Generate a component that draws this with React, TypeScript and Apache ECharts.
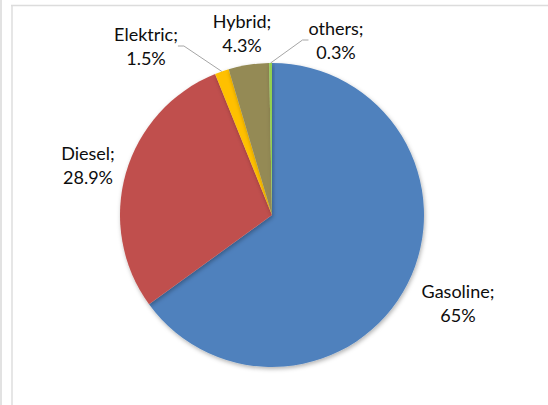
import React, { useEffect, useRef } from "react";
import * as echarts from "echarts";

const categories = ["Gasoline", "Diesel", "Elektric", "Hybrid", "others"];
const values = [65, 28.9, 1.5, 4.3, 0.3];
const labelTexts = ["65%", "28.9%", "1.5%", "4.3%", "0.3%"];
const colors = ["#4F81BD", "#C0504D", "#FFC000", "#948A54", "#92D050"];
const showLines = [false, false, true, false, true];
const labelPos: [number, number][] = [
  [458, 303],
  [88, 165],
  [146, 46],
  [242, 33],
  [336, 40],
];

export default function App() {
  const ref = useRef<HTMLDivElement>(null);
  useEffect(() => {
    document.body.style.margin = "0";
    const chart = echarts.init(ref.current!, null, { renderer: "svg" });
    chart.setOption({
      animation: false,
      backgroundColor: "#ffffff",
      graphic: [
        { type: "line", shape: { x1: 1, y1: 0, x2: 1, y2: 405 }, style: { stroke: "#d9d9d9", lineWidth: 1.5 } },
        { type: "line", shape: { x1: 12, y1: 5, x2: 12, y2: 405 }, style: { stroke: "#e6e6e6", lineWidth: 2 } },
        { type: "line", shape: { x1: 11, y1: 5.5, x2: 548, y2: 5.5 }, style: { stroke: "#dcdcdc", lineWidth: 1.5 } },
      ],
      series: [
        {
          type: "pie",
          center: [272, 215],
          radius: [0, 152],
          startAngle: 90,
          clockwise: true,
          avoidLabelOverlap: false,
          itemStyle: {
            shadowBlur: 4,
            shadowColor: "rgba(0,0,0,0.3)",
            shadowOffsetX: 1,
            shadowOffsetY: 2,
          },
          label: {
            show: true,
            position: "outside",
            fontFamily: "Lato, 'Open Sans', sans-serif",
            fontSize: 18,
            lineHeight: 24,
            color: "#0d0d0d",
            align: "center",
            formatter: (p: any) => `${p.name};\n${labelTexts[p.dataIndex]}`,
          },
          labelLine: {
            show: true,
            length: 10,
            length2: 6,
            lineStyle: { color: "#a6a6a6", width: 1 },
          },
          labelLayout: (params: any) => {
            const [x, y] = labelPos[params.dataIndex];
            return { x, y, align: "center", verticalAlign: "middle" };
          },
          data: categories.map((name, i) => ({
            name,
            value: values[i],
            itemStyle: { color: colors[i] },
            labelLine: { show: showLines[i] },
          })),
        },
      ],
    });
    return () => chart.dispose();
  }, []);
  return <div ref={ref} style={{ width: 548, height: 405 }} />;
}
